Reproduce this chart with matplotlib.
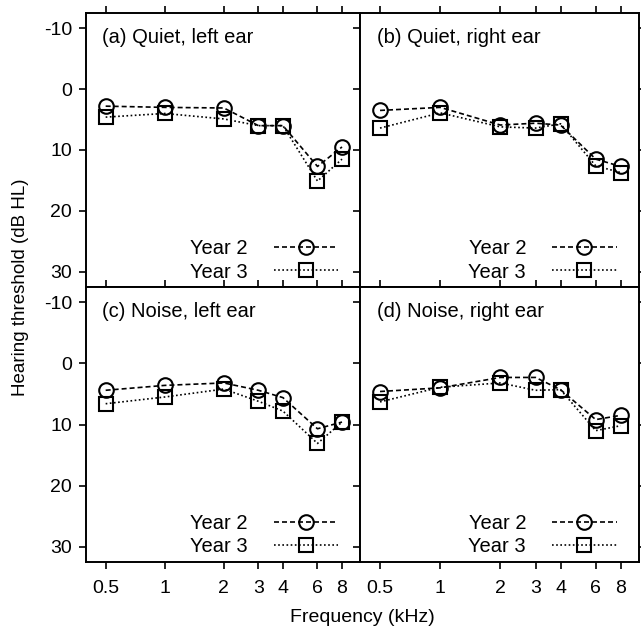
import numpy as np
import matplotlib
matplotlib.use("Agg")
import matplotlib.pyplot as plt
from matplotlib.ticker import FixedLocator, NullLocator

plt.rcParams['font.family'] = ['Liberation Sans', 'DejaVu Sans']

freqs = [0.5, 1, 2, 3, 4, 6, 8]
freq_labels = ["0.5", "1", "2", "3", "4", "6", "8"]
db_ticks = [-10, 0, 10, 20, 30]
db_labels = ["-10", "0", "10", "20", "30"]

titles = ["(a) Quiet, left ear", "(b) Quiet, right ear",
          "(c) Noise, left ear", "(d) Noise, right ear"]

year2 = [
    [2.8, 3.0, 3.1, 6.0, 6.0, 12.7, 9.5],
    [3.5, 3.0, 5.9, 5.6, 5.9, 11.5, 12.7],
    [4.4, 3.6, 3.2, 4.4, 5.6, 10.7, 9.6],
    [4.6, 4.0, 2.3, 2.3, 4.3, 9.2, 8.5],
]
year3 = [
    [4.6, 4.0, 4.9, 6.0, 6.0, 15.1, 11.5],
    [6.4, 3.9, 6.2, 6.4, 5.7, 12.6, 13.7],
    [6.6, 5.5, 4.2, 6.2, 7.8, 13.1, 9.6],
    [6.3, 3.9, 3.2, 4.4, 4.3, 11.0, 10.2],
]

W, H = 641, 629
fig = plt.figure(figsize=(W / 100, H / 100), dpi=100)

x0, xm, x1 = 86 / W, 360 / W, 639 / W
yb, ym, yt = 1 - 562 / H, 1 - 287 / H, 1 - 13 / H
rects = [
    [x0, ym, xm - x0, yt - ym],
    [xm, ym, x1 - xm, yt - ym],
    [x0, yb, xm - x0, ym - yb],
    [xm, yb, x1 - xm, ym - yb],
]

for i, r in enumerate(rects):
    ax = fig.add_axes(r)
    ax.set_xscale("log")
    ax.set_xlim(0.397, 9.88)
    ax.set_ylim(32.5, -12.5)

    ax.plot(freqs, year2[i], color="black", lw=1.2, ls=(0, (3, 1.8)),
            marker="o", ms=10.5, mfc="none", mec="black", mew=1.5, label="Year 2")
    ax.plot(freqs, year3[i], color="black", lw=1.2, ls=(0, (1, 1.5)),
            marker="s", ms=10, mfc="none", mec="black", mew=1.5, label="Year 3")

    ax.xaxis.set_major_locator(FixedLocator(freqs))
    ax.xaxis.set_minor_locator(NullLocator())
    ax.set_yticks(db_ticks)
    ax.tick_params(direction="out", length=5, width=1.2, top=True, right=True,
                   labelsize=14)
    ax.tick_params(axis="x", pad=8)
    ax.tick_params(axis="y", pad=5)
    if i >= 2:
        ax.set_xticklabels(freq_labels)
    else:
        ax.set_xticklabels([])
    if i % 2 == 0:
        ax.set_yticklabels(db_labels)
    else:
        ax.set_yticklabels([])

    for s in ax.spines.values():
        s.set_linewidth(1.4)

    ax.text(0.06, 0.89, titles[i], transform=ax.transAxes, fontsize=14.5,
            ha="left", va="baseline")

    ax.legend(loc="lower right", bbox_to_anchor=(0.92, 0.02), frameon=False,
              markerfirst=False, fontsize=14.5, handlelength=3.2,
              handletextpad=1.3, labelspacing=0.2, borderaxespad=0,
              borderpad=0)

fig.text(0.032, (yb + yt) / 2, "Hearing threshold (dB HL)", rotation=90,
         ha="center", va="center", fontsize=13.5)
fig.text((x0 + x1) / 2, 1 - 618 / H, "Frequency (kHz)", ha="center",
         va="center", fontsize=14)

fig.savefig("out.png", dpi=100)
